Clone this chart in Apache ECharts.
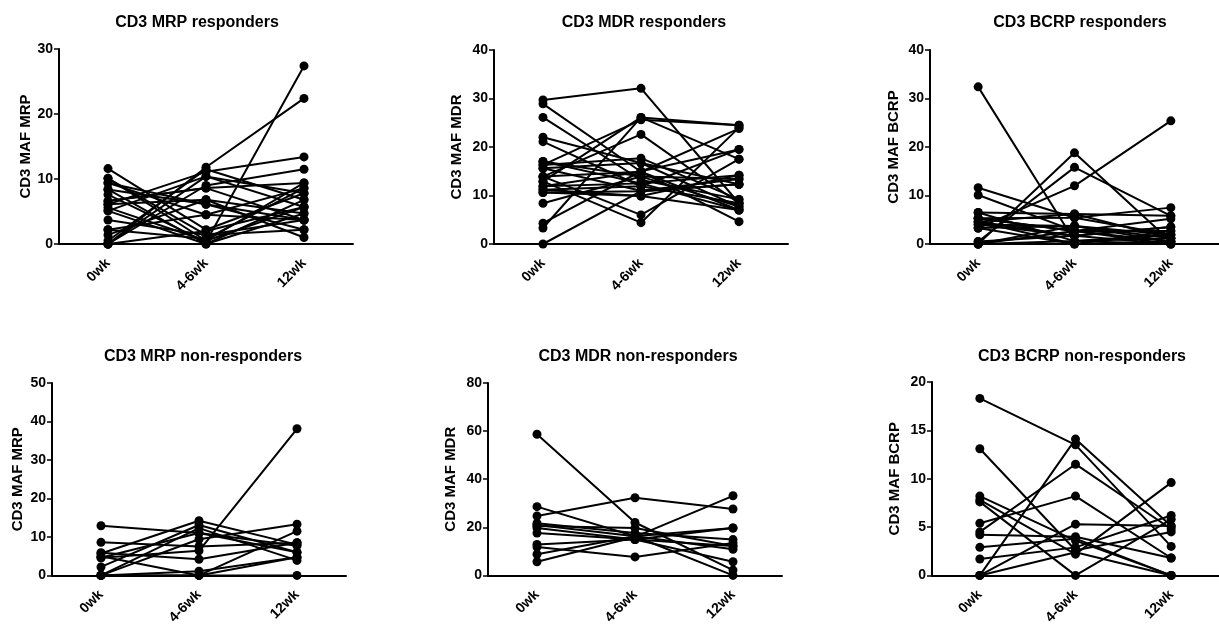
<!DOCTYPE html>
<html>
<head>
<meta charset="utf-8">
<script src="https://cdn.jsdelivr.net/npm/echarts@6/dist/echarts.min.js"></script>
<style>
  html, body { margin: 0; padding: 0; background: #fff; }
  #chart { width: 1219px; height: 627px; }
</style>
</head>
<body>
<div id="chart"></div>
<script>
// Time points
const categories = ['0wk', '4-6wk', '12wk'];

// Each row is one subject: [0wk, 4-6wk, 12wk]
const mrpResponders = [
  [11.6, 2.2, 7.8], [10.1, 0.5, 5.7], [10.1, 1.4, 3.7], [9.4, 4.5, 8.6],
  [8.4, 0, 6.8], [8.4, 6.1, 3.7], [7.6, 0.3, 27.4], [6.6, 8.6, 9.4],
  [6.1, 11.1, 13.4], [6.1, 6.8, 4.7], [5.1, 10.4, 7.8], [5.1, 0, 4.7],
  [3.7, 1.4, 2.2], [2.2, 0.8, 8.6], [1.4, 6.8, 1.0], [0, 11.8, 22.4],
  [0, 9.0, 11.5], [0, 2.0, 5.7], [0.5, 11.5, 6.8], [6.6, 8.6, 3.7],
  [9.4, 6.1, 2.2], [0, 10.4, 5.7], [5.6, 0.5, 9.4], [2.2, 4.5, 3.7]
];
const mdrResponders = [
  [29.7, 32.1, 8.4], [28.9, 14.9, 7.0], [26.1, 13.2, 9.2], [22.0, 16.7, 7.7],
  [21.1, 11.9, 8.4], [17.0, 12.5, 7.0], [16.3, 25.6, 24.5], [15.6, 11.0, 13.4],
  [13.9, 22.6, 8.4], [12.9, 26.1, 17.5], [11.9, 14.9, 23.8], [11.2, 9.9, 14.2],
  [10.6, 10.9, 12.3], [8.4, 13.9, 13.4], [4.3, 15.0, 19.5], [3.3, 26.1, 24.5],
  [0, 10.9, 12.3], [13.9, 6.0, 17.5], [12.9, 4.4, 24.0], [16.3, 17.7, 9.2],
  [11.9, 12.5, 14.2], [17.0, 13.9, 7.7], [11.2, 11.9, 19.5], [13.9, 14.9, 4.6],
  [15.6, 16.7, 12.3], [10.6, 9.9, 7.0]
];
const bcrpResponders = [
  [32.4, 0.6, 1.2], [0, 18.8, 0.5], [0.5, 15.8, 5.8], [3.3, 12.0, 25.4],
  [11.6, 5.4, 1.9], [10.1, 2.7, 0.5], [6.5, 6.2, 5.8], [5.3, 5.4, 7.5],
  [4.6, 1.7, 3.5], [4.0, 3.7, 0.5], [3.3, 0, 2.7], [0, 2.7, 5.2],
  [0, 0.6, 1.9], [4.6, 6.2, 1.2], [5.3, 2.7, 2.7], [4.0, 1.7, 0],
  [3.3, 3.7, 1.2], [0.5, 1.7, 3.5], [6.5, 0.6, 0], [0, 3.7, 1.9],
  [4.6, 0, 0.5], [5.3, 2.7, 0]
];
const mrpNonResponders = [
  [12.9, 11.0, 7.7], [8.6, 7.5, 8.5], [5.9, 4.2, 8.5], [5.7, 14.2, 8.0],
  [4.6, 6.4, 38.1], [2.2, 13.1, 6.0], [0, 12.3, 3.9], [0, 9.4, 13.3],
  [0, 0, 11.5], [0, 1.1, 4.7], [5.0, 0, 4.7], [4.6, 11.0, 6.0], [0, 0, 0]
];
const mdrNonResponders = [
  [58.7, 22.0, 2.2], [24.7, 32.3, 27.6], [28.6, 16.3, 0], [5.7, 16.0, 33.1],
  [11.8, 7.7, 13.5], [21.7, 17.6, 14.9], [21.0, 16.3, 19.7], [19.7, 14.9, 12.2],
  [17.6, 14.9, 5.7], [12.9, 14.9, 19.7], [8.8, 16.3, 10.9], [20.5, 19.7, 12.2]
];
const bcrpNonResponders = [
  [18.3, 13.5, 3.0], [13.1, 2.6, 4.5], [0, 14.1, 5.1], [4.5, 11.5, 4.8],
  [5.4, 8.2, 1.8], [7.6, 0, 5.8], [0, 5.3, 5.1], [8.2, 3.6, 0],
  [4.2, 4.0, 1.8], [2.9, 3.8, 0], [1.7, 2.9, 6.2], [7.8, 2.2, 9.6],
  [0, 2.4, 0]
];

const titles = [
  'CD3 MRP responders', 'CD3 MDR responders', 'CD3 BCRP responders',
  'CD3 MRP non-responders', 'CD3 MDR non-responders', 'CD3 BCRP non-responders'
];
const yNames = ['CD3 MAF MRP', 'CD3 MAF MDR', 'CD3 MAF BCRP', 'CD3 MAF MRP', 'CD3 MAF MDR', 'CD3 MAF BCRP'];
const yMax = [30, 40, 40, 50, 80, 20];
const yInterval = [10, 10, 10, 10, 20, 5];
const groups = [mrpResponders, mdrResponders, bcrpResponders, mrpNonResponders, mdrNonResponders, bcrpNonResponders];

// Panel layout
const layout = [
  { grid: { left: 59, top: 49, width: 294, height: 195 }, tx: 192, ty: 10, gap: 25 },
  { grid: { left: 494, top: 50, width: 294, height: 194 }, tx: 639, ty: 10, gap: 30 },
  { grid: { left: 930, top: 50, width: 294, height: 194 }, tx: 1075, ty: 10, gap: 29 },
  { grid: { left: 52, top: 383, width: 294, height: 195 }, tx: 198, ty: 344, gap: 27 },
  { grid: { left: 488, top: 383, width: 294, height: 195 }, tx: 633, ty: 344, gap: 30 },
  { grid: { left: 932, top: 382, width: 294, height: 195 }, tx: 1077, ty: 344, gap: 30 }
];

const FONT = '"Liberation Sans", Arial, sans-serif';
const INK = '#000';

const option = {
  animation: false,
  backgroundColor: '#fff',
  title: [], grid: [], xAxis: [], yAxis: [], series: []
};

layout.forEach((p, i) => {
  option.title.push({
    text: titles[i], left: p.tx, top: p.ty, textAlign: 'center',
    textStyle: { fontFamily: FONT, fontSize: 16, fontWeight: 'bold', color: INK }
  });
  option.grid.push(Object.assign({ containLabel: false }, p.grid));
  option.xAxis.push({
    type: 'category', gridIndex: i, data: categories, boundaryGap: true,
    axisLine: { lineStyle: { color: INK, width: 2 } },
    axisTick: { alignWithLabel: true, length: 5, lineStyle: { color: INK, width: 1.5 } },
    axisLabel: { rotate: 45, margin: 17, color: INK, fontFamily: FONT, fontSize: 14, fontWeight: 'bold' },
    splitLine: { show: false }
  });
  option.yAxis.push({
    type: 'value', gridIndex: i, min: 0, max: yMax[i], interval: yInterval[i],
    name: yNames[i], nameLocation: 'middle', nameGap: p.gap, nameRotate: 90,
    nameTextStyle: { color: INK, fontFamily: FONT, fontSize: 15, fontWeight: 'bold' },
    axisLine: { show: true, lineStyle: { color: INK, width: 2 } },
    axisTick: { show: true, length: 5, lineStyle: { color: INK, width: 1.5 } },
    axisLabel: { color: INK, margin: 6, fontFamily: FONT, fontSize: 14, fontWeight: 'bold' },
    splitLine: { show: false }
  });
  groups[i].forEach(subject => {
    option.series.push({
      type: 'line', xAxisIndex: i, yAxisIndex: i, data: subject,
      symbol: 'circle', symbolSize: 9, showSymbol: true,
      lineStyle: { color: INK, width: 2 },
      itemStyle: { color: INK },
      emphasis: { disabled: true }, silent: true
    });
  });
});

const chart = echarts.init(document.getElementById('chart'), null, { renderer: 'canvas' });
chart.setOption(option);
</script>
</body>
</html>
